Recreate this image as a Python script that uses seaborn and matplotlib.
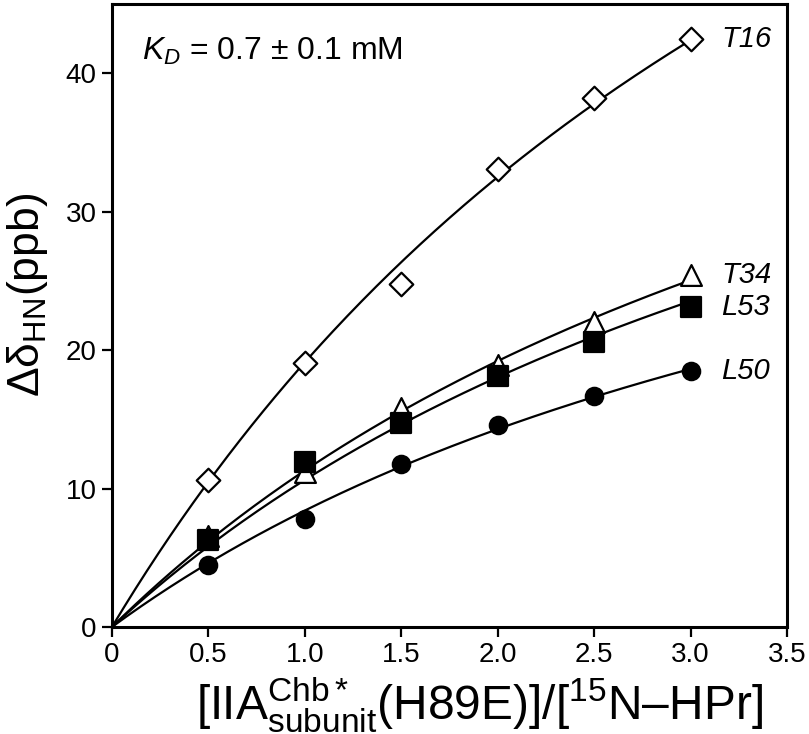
import numpy as np
import pandas as pd
import matplotlib
matplotlib.use("Agg")
import matplotlib.pyplot as plt
import seaborn as sns

# ---- data ----
ratio = [0.5, 1.0, 1.5, 2.0, 2.5, 3.0]
T16 = [10.6, 19.1, 24.8, 33.1, 38.2, 42.5]
T34 = [6.6, 11.2, 15.8, 18.9, 22.0, 25.4]
L53 = [6.3, 11.9, 14.7, 18.1, 20.6, 23.1]
L50 = [4.5, 7.8, 11.8, 14.6, 16.7, 18.5]
series_names = ["T16", "T34", "L53", "L50"]
x_ticks = [0, 0.5, 1.0, 1.5, 2.0, 2.5, 3.0, 3.5]
x_tick_labels = ["0", "0.5", "1.0", "1.5", "2.0", "2.5", "3.0", "3.5"]
y_ticks = [0, 10, 20, 30, 40]
annotation = r"$K_D$ = 0.7 ± 0.1 mM"

sns.set_theme(style="white")
plt.rcParams["font.family"] = ["Liberation Sans", "DejaVu Sans"]
plt.rcParams["mathtext.fontset"] = "custom"
plt.rcParams["mathtext.rm"] = "Liberation Sans"
plt.rcParams["mathtext.it"] = "Liberation Sans:italic"
plt.rcParams["mathtext.bf"] = "Liberation Sans:bold"
for key in ["text.color", "axes.labelcolor", "xtick.color", "ytick.color", "axes.edgecolor"]:
    plt.rcParams[key] = "black"

values = {"T16": T16, "T34": T34, "L53": L53, "L50": L50}
styles = {
    "T16": dict(marker="D", ms=12.0, face="white"),
    "T34": dict(marker="^", ms=15.0, face="white"),
    "L53": dict(marker="s", ms=14.0, face="black"),
    "L50": dict(marker="o", ms=12.5, face="black"),
}

# global hyperbolic fit (shared K, per-series amplitude) derived from the data
xr = np.array(ratio)
best = None
for K in np.linspace(0.2, 10, 981):
    f = xr / (K + xr)
    err = 0.0
    amps = {}
    for n in series_names:
        y = np.array(values[n])
        a = (f @ y) / (f @ f)
        amps[n] = a
        err += np.sum((y - a * f) ** 2)
    if best is None or err < best[0]:
        best = (err, K, amps)
_, Kfit, amps = best
xfit = np.linspace(0, 3.0, 200)

pts = pd.DataFrame([(x, v, n) for n in series_names for x, v in zip(ratio, values[n])],
                   columns=["x", "y", "res"])
fits = pd.DataFrame([(x, amps[n] * x / (Kfit + x), n) for n in series_names for x in xfit],
                    columns=["x", "y", "res"])

fig = plt.figure(figsize=(8.09, 7.34), dpi=100)
ax = fig.add_axes([0.1384, 0.1458, 0.9728 - 0.1384, 0.9946 - 0.1458])

for n in series_names:
    sub = fits[fits.res == n]
    sns.lineplot(data=sub, x="x", y="y", ax=ax, color="black", lw=1.6,
                 zorder=2, legend=False, estimator=None, sort=False)
for n in series_names:
    st = styles[n]
    sub = pts[pts.res == n]
    sns.scatterplot(data=sub, x="x", y="y", ax=ax, marker=st["marker"],
                    s=st["ms"] ** 2, facecolor=st["face"], edgecolor="black",
                    linewidth=1.6, zorder=3, legend=False)
    ax.text(3.16, values[n][-1], n, fontsize=21, fontstyle="italic",
            va="center", ha="left")

ax.text(0.155, 41.6, annotation, fontsize=23, va="center", ha="left")

ax.set_xlim(0, 3.5)
ax.set_ylim(0, 45)
ax.set_xticks(x_ticks)
ax.set_xticklabels(x_tick_labels)
ax.set_yticks(y_ticks)
ax.tick_params(axis="both", direction="out", length=7, width=1.6,
               labelsize=20, pad=4, bottom=True, left=True, color="black")
for sp in ax.spines.values():
    sp.set_linewidth(2.2)
    sp.set_color("black")
    sp.set_visible(True)

ax.set_xlabel(r"[IIA$^{\mathrm{Chb*}}_{\mathrm{subunit}}$(H89E)]/[$^{15}$N–HPr]",
              fontsize=34.5)
ax.set_ylabel(r"Δδ$_{\mathrm{HN}}$(ppb)", fontsize=32)
ax.xaxis.set_label_coords(0.545, -0.077)
ax.yaxis.set_label_coords(-0.092, 0.533)

fig.savefig("out.png", dpi=100)
